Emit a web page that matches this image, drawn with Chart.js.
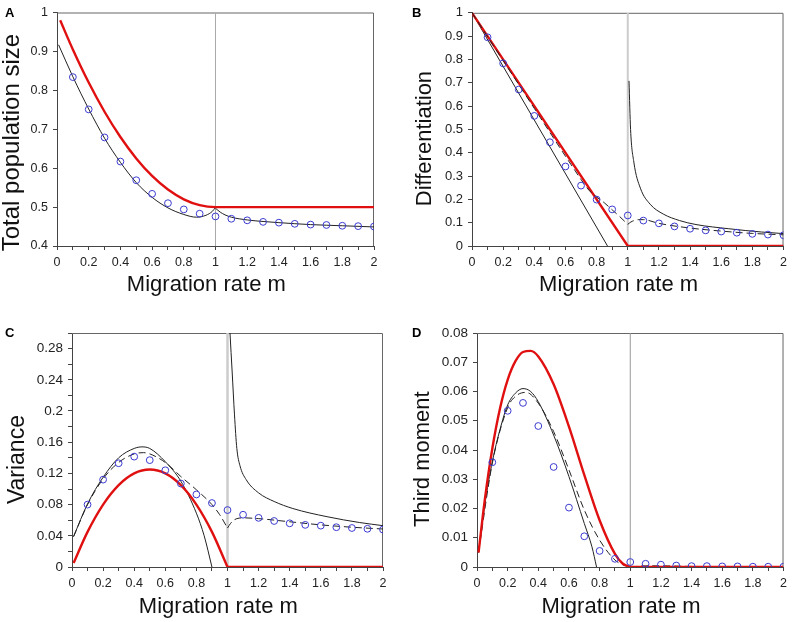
<!DOCTYPE html>
<html>
<head>
<meta charset="utf-8">
<script src="https://cdn.jsdelivr.net/npm/chart.js@4.4.1/dist/chart.umd.min.js"></script>
<style>
  body { margin: 0; background: #fff; }
  .panel { position: absolute; width: 396px; height: 311px; }
</style>
</head>
<body>
<div class="panel" style="left:0;top:0"><canvas id="pA" width="396" height="311"></canvas></div>
<div class="panel" style="left:396px;top:0"><canvas id="pB" width="396" height="311"></canvas></div>
<div class="panel" style="left:0;top:311px"><canvas id="pC" width="396" height="311"></canvas></div>
<div class="panel" style="left:396px;top:311px"><canvas id="pD" width="396" height="311"></canvas></div>
<script>
// simulation points (circles), m = 0.1 .. 2.0
const simM = [0.1,0.2,0.3,0.4,0.5,0.6,0.7,0.8,0.9,1.0,1.1,1.2,1.3,1.4,1.5,1.6,1.7,1.8,1.9,2.0];
const simA = [0.834,0.751,0.679,0.617,0.569,0.534,0.510,0.494,0.483,0.476,0.470,0.466,0.462,0.460,0.457,0.455,0.454,0.452,0.451,0.450];
const simB = [0.895,0.783,0.671,0.558,0.445,0.341,0.259,0.199,0.157,0.131,0.109,0.097,0.084,0.074,0.067,0.062,0.057,0.052,0.049,0.046];
const simC = [0.080,0.112,0.133,0.1415,0.137,0.124,0.107,0.093,0.082,0.073,0.067,0.063,0.059,0.056,0.054,0.053,0.051,0.050,0.049,0.048];
const simD = [0.0358,0.0534,0.0561,0.0482,0.0342,0.0203,0.0105,0.0055,0.0028,0.0017,0.0011,0.0008,0.0005,0.0003,0.0003,0.0002,0.0002,0.0001,0.0001,0.0001];

// A - total population size
const redA_m = [0.02,0.1,0.2,0.3,0.4,0.5,0.6,0.7,0.8,0.9,1.0,2.0];
const redA   = [0.980,0.905,0.820,0.745,0.680,0.625,0.580,0.545,0.520,0.505,0.500,0.500];
const blkA1_m = [0.01,0.1,0.2,0.3,0.4,0.5,0.6,0.7,0.8,0.88,0.94,0.98,1.0];
const blkA1   = [0.917,0.835,0.752,0.677,0.615,0.563,0.525,0.498,0.481,0.474,0.479,0.489,0.499];
const blkA2_m = [1.0,1.03,1.06,1.1,1.2,1.3,1.4,1.6,1.8,2.0];
const blkA2   = [0.497,0.487,0.480,0.474,0.467,0.463,0.460,0.455,0.452,0.449];

// B - differentiation
const redB_m = [0,1,2];
const redB   = [1,0,0];
const blkB1_m = [0,0.87];
const blkB1   = [1,0];
const blkB2_m = [1.008,1.018,1.039,1.081,1.144,1.228,1.333,1.438,1.649,1.859,2.0];
const blkB2   = [0.708,0.50,0.36,0.248,0.179,0.137,0.109,0.092,0.074,0.060,0.053];
const dshB1_m = [0,0.2,0.4,0.6,0.65,0.7,0.75,0.8,0.85,0.9,0.95,1.0];
const dshB1   = [1,0.795,0.59,0.385,0.335,0.285,0.24,0.21,0.185,0.155,0.125,0.093];
const dshB2_m = [1.0,1.02,1.04,1.07,1.1,1.2,1.4,1.6,1.8,2.0];
const dshB2   = [0.093,0.103,0.109,0.113,0.113,0.097,0.077,0.064,0.054,0.048];

// C - variance
const redC_m = [0.01,0.1,0.2,0.3,0.4,0.5,0.6,0.7,0.8,0.9,1.0];
const redC   = [0.005,0.045,0.080,0.105,0.120,0.125,0.120,0.105,0.080,0.045,0];
const blkC1_m = [0.01,0.1,0.2,0.3,0.4,0.45,0.5,0.6,0.7,0.8,0.85,0.9];
const blkC1   = [0.039,0.081,0.115,0.140,0.152,0.154,0.152,0.135,0.110,0.069,0.040,0];
const blkC2_m = [1.016,1.03,1.045,1.06,1.08,1.12,1.2,1.3,1.42,1.64,1.85,2.0];
const blkC2   = [0.30,0.25,0.195,0.152,0.130,0.112,0.095,0.084,0.075,0.0645,0.057,0.053];
const dshC1_m = [0.01,0.1,0.2,0.3,0.4,0.46,0.5,0.6,0.7,0.8,0.9,0.95,1.0];
const dshC1   = [0.039,0.080,0.113,0.134,0.145,0.1466,0.145,0.134,0.116,0.099,0.080,0.067,0.050];
const dshC2_m = [1.0,1.02,1.04,1.06,1.1,1.2,1.4,1.6,1.8,2.0];
const dshC2   = [0.050,0.056,0.060,0.062,0.063,0.062,0.058,0.054,0.051,0.0487];

// D - third moment
const redD_m = [0.01,0.05,0.1,0.15,0.2,0.25,0.3,0.35,0.4,0.5,0.6,0.7,0.8,0.9,0.95,1.0];
const redD   = [0.0049,0.0226,0.0405,0.0542,0.064,0.0703,0.0735,0.0739,0.072,0.0625,0.048,0.0315,0.016,0.0045,0.0012,0];
const blkD_m = [0.01,0.05,0.1,0.15,0.2,0.25,0.3,0.35,0.4,0.5,0.6,0.7,0.75,0.78];
const blkD   = [0.005,0.021,0.036,0.047,0.0554,0.0594,0.0610,0.0600,0.0565,0.0451,0.0309,0.0149,0.0069,0];
const dshD1_m = [0.01,0.1,0.2,0.25,0.32,0.4,0.5,0.6,0.7,0.8,0.9,0.95,1.0];
const dshD1   = [0.005,0.0355,0.0545,0.0583,0.0597,0.056,0.0463,0.0332,0.0195,0.0092,0.0024,0.0008,0];
const dshD2_m = [1.0,1.1,1.2,1.4,2.0];
const dshD2   = [0,0.0004,0.0004,0.0002,0.0001];

const FONT = "'Liberation Sans', Arial, Helvetica, sans-serif";
Chart.defaults.font.family = FONT;
// titles in the figure sit a bit off centre; trailing nbsp's nudge them
const NB = '\u00a0\u00a0\u00a0';

function pts(xs, ys) { return xs.map((x, i) => ({ x: x, y: ys[i] })); }

function circles(ys) {
  return { data: pts(simM, ys), showLine: false, pointStyle: 'circle', pointRadius: 3.4,
           pointBorderColor: '#3b3bd0', pointBorderWidth: 1, pointBackgroundColor: 'rgba(255,255,255,0)' };
}
function curve(xs, ys, kind) {
  const ds = { data: pts(xs, ys), showLine: true, pointRadius: 0, cubicInterpolationMode: 'monotone' };
  if (kind == 'red') { ds.borderColor = '#e01010'; ds.borderWidth = 2.4; }
  if (kind == 'black') { ds.borderColor = '#222'; ds.borderWidth = 1; }
  if (kind == 'dash') { ds.borderColor = '#222'; ds.borderWidth = 1; ds.borderDash = [7, 4]; }
  if (kind == 'straight') { ds.borderColor = '#e01010'; ds.borderWidth = 2.4; ds.cubicInterpolationMode = 'default'; ds.tension = 0; }
  return ds;
}
function vline(lo, hi, col, w) {
  return { data: [{ x: 1, y: lo }, { x: 1, y: hi }], showLine: true, pointRadius: 0,
           borderColor: col, borderWidth: w, tension: 0 };
}
function zeroRed() {
  return curve([1, 2], [0, 0], 'straight');
}

// box around the plot area + panel letter
const frame = {
  id: 'frame',
  beforeDatasetsDraw(chart) {
    const a = chart.chartArea, ctx = chart.ctx;
    ctx.save();
    ctx.strokeStyle = '#666';
    ctx.lineWidth = 1;
    ctx.beginPath();
    ctx.moveTo(a.left, a.top + 0.5);
    ctx.lineTo(a.right - 0.5, a.top + 0.5);
    ctx.lineTo(a.right - 0.5, a.bottom);
    ctx.stroke();
    ctx.restore();
  },
  afterDraw(chart, args, opts) {
    const ctx = chart.ctx;
    ctx.save();
    ctx.font = 'bold 13px ' + FONT;
    ctx.fillStyle = '#000';
    ctx.fillText(opts.text, opts.x, opts.y);
    ctx.restore();
  }
};

function fmt(v) { return String(+v.toFixed(3)); }

function panel(id, o) {
  new Chart(document.getElementById(id), {
    type: 'scatter',
    data: { datasets: o.datasets },
    plugins: [frame],
    options: {
      responsive: false,
      animation: false,
      devicePixelRatio: 1,
      layout: { padding: o.pad },
      plugins: {
        legend: { display: false },
        tooltip: { enabled: false },
        frame: o.letter
      },
      scales: {
        x: {
          type: 'linear', min: 0, max: 2,
          afterFit: s => { s.height = o.xh; },
          border: { color: '#444' },
          grid: { drawOnChartArea: false, tickLength: 4, tickColor: '#444' },
          ticks: { stepSize: 0.1, autoSkip: false, maxRotation: 0, padding: 5, color: '#222', font: { size: 12.5 },
                   callback: v => (Math.round(v * 10) % 2 == 0 ? fmt(v) : '') },
          title: { display: true, text: 'Migration rate m' + NB, color: '#111',
                   font: { size: 22, lineHeight: 1 }, padding: { top: 0, bottom: o.xtp } }
        },
        y: {
          type: 'linear', min: o.ymin, max: o.ymax,
          afterFit: s => { s.width = o.yw; },
          border: { color: '#444' },
          grid: { drawOnChartArea: false, tickLength: 4, tickColor: '#444' },
          ticks: { stepSize: o.ystep, autoSkip: false, padding: 5, color: '#222', font: { size: o.yfs || 13 },
                   callback: o.ylab || fmt },
          title: { display: true, text: o.ytitle + NB, color: '#111',
                   font: { size: o.ytfs || 22, lineHeight: 1 }, padding: { top: 0, bottom: 0 } }
        }
      }
    }
  });
}

panel('pA', {
  pad: { left: 0, top: 7, right: 22, bottom: 0 }, yw: 57, xh: 65, xtp: 15,
  ymin: 0.4, ymax: 1, ystep: 0.1, ytitle: 'Total population size' + '\u00a0', ytfs: 24, yfs: 12.5,
  letter: { text: 'A', x: 5, y: 17 },
  datasets: [
    circles(simA),
    curve(redA_m, redA, 'red'),
    curve(blkA1_m, blkA1, 'black'),
    curve(blkA2_m, blkA2, 'black'),
    vline(0.4, 1, '#aaa', 1)
  ]
});

panel('pB', {
  pad: { left: 18, top: 7, right: 3, bottom: 0 }, yw: 58, xh: 65, xtp: 15,
  ymin: 0, ymax: 1, ystep: 0.1, ytitle: 'Differentiation',
  letter: { text: 'B', x: 16, y: 17 },
  datasets: [
    circles(simB),
    curve(dshB1_m, dshB1, 'dash'),
    curve(dshB2_m, dshB2, 'dash'),
    curve(redB_m, redB, 'straight'),
    curve(blkB1_m, blkB1, 'black'),
    curve(blkB2_m, blkB2, 'black'),
    vline(0, 1, '#ccc', 2)
  ]
});

panel('pC', {
  pad: { left: 6, top: 22, right: 13, bottom: 0 }, yw: 66, xh: 55, xtp: 4,
  ymin: 0, ymax: 0.3, ystep: 0.02, ytitle: 'Variance', ytfs: 23, yfs: 13.5,
  ylab: v => (Math.round(v * 100) % 4 == 0 && v < 0.29 ? fmt(v) : ''),
  letter: { text: 'C', x: 5, y: 26 },
  datasets: [
    circles(simC),
    curve(dshC1_m, dshC1, 'dash'),
    curve(dshC2_m, dshC2, 'dash'),
    curve(redC_m, redC, 'red'),
    zeroRed(),
    curve(blkC1_m, blkC1, 'black'),
    curve(blkC2_m, blkC2, 'black'),
    vline(0, 0.3, '#ccc', 2.5)
  ]
});

panel('pD', {
  pad: { left: 16, top: 22, right: 4, bottom: 0 }, yw: 65, xh: 55, xtp: 4,
  ymin: 0, ymax: 0.08, ystep: 0.01, ytitle: 'Third moment', yfs: 13.5,
  letter: { text: 'D', x: 16, y: 26 },
  datasets: [
    circles(simD),
    curve(redD_m, redD, 'red'),
    zeroRed(),
    curve(dshD1_m, dshD1, 'dash'),
    curve(dshD2_m, dshD2, 'dash'),
    curve(blkD_m, blkD, 'black'),
    vline(0, 0.08, '#999', 1)
  ]
});
</script>
</body>
</html>
